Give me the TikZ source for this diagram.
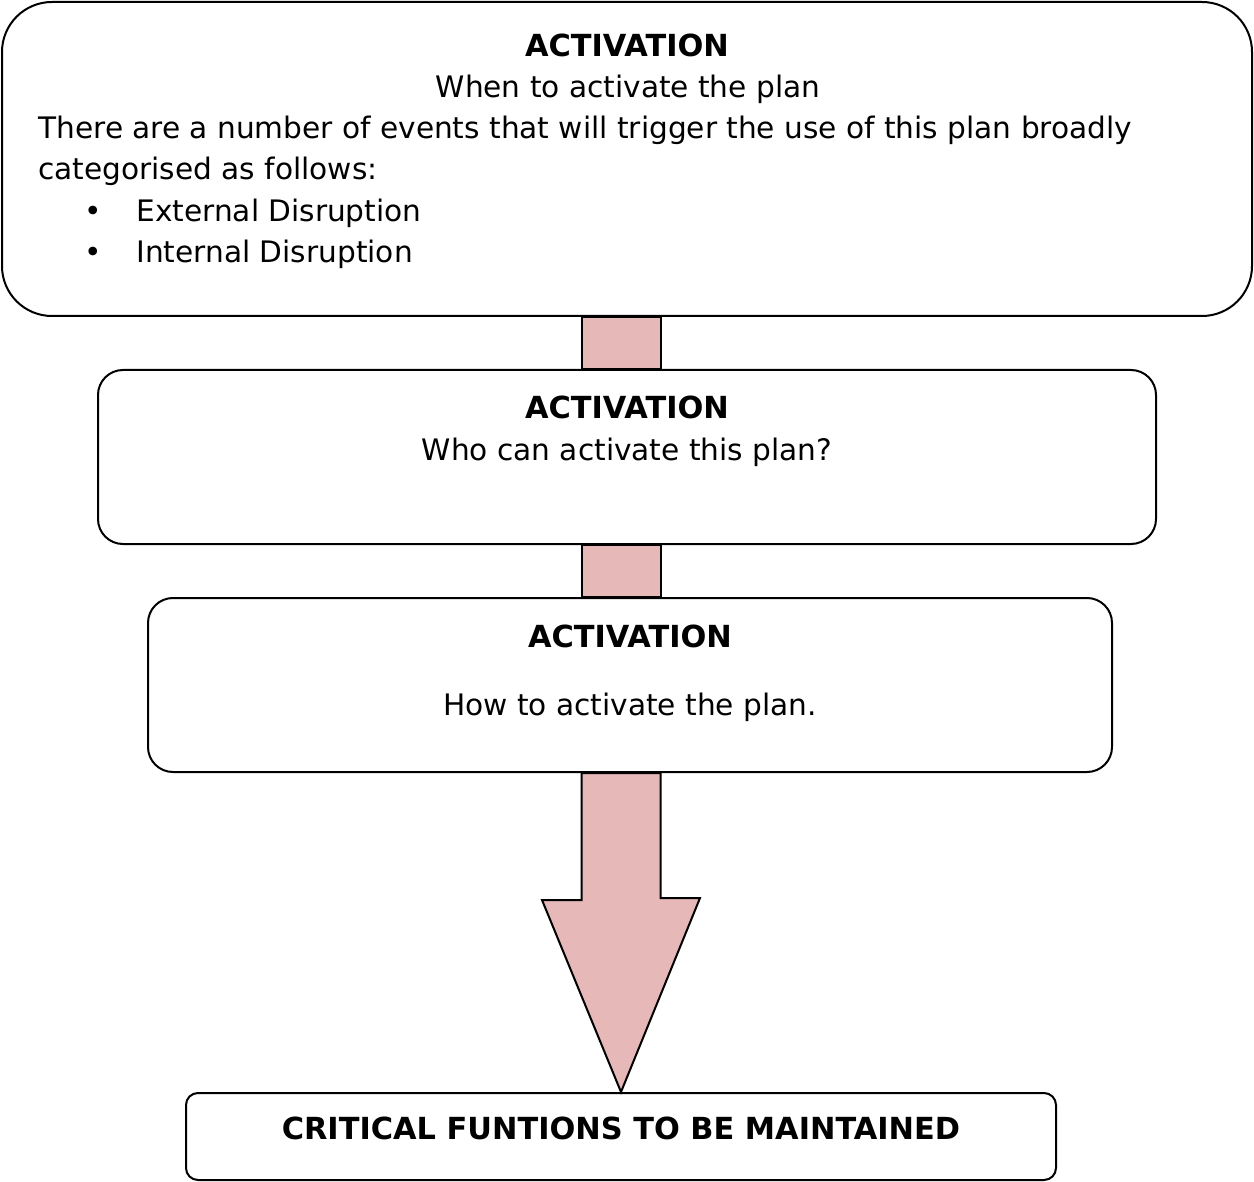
\documentclass[tikz,border=0pt]{standalone}
\usepackage{fontspec}
\setmainfont{DejaVu Sans}
\usetikzlibrary{positioning}
\definecolor{shaftpink}{HTML}{E6B8B7}

\begin{document}
\begin{tikzpicture}[x=0.5pt,y=-0.5pt,
  panel/.style={draw,line width=1pt,fill=white,rounded corners=#1,inner sep=0pt},
  shaft/.style={draw,line width=1pt,fill=shaftpink,line join=miter},
  txt/.style={anchor=base,inner sep=0pt,font=\fontsize{14.8}{20}\selectfont},
  head/.style={txt,font=\fontsize{15.2}{20}\selectfont\bfseries}
]
  \useasboundingbox (0,0) rectangle (1254,1182);

  % the four boxes
  \node[panel=25pt,minimum width=625pt,minimum height=157pt] (act1) at (627,159) {};
  \node[panel=12.5pt,minimum width=529pt,minimum height=87pt] (act2) at (627,457) {};
  \node[panel=12.5pt,minimum width=482pt,minimum height=87pt] (act3) at (630,685) {};
  \node[panel=6pt,minimum width=435pt,minimum height=43.5pt] (crit) at (621,1136.5) {};

  % shafts between the boxes and the big arrow
  \draw[shaft] ([xshift=-19.75pt]act1.south -| crit.north) rectangle ([xshift=19.75pt]act2.north -| crit.north);
  \draw[shaft] ([xshift=-19.75pt]act2.south -| crit.north) rectangle ([xshift=19.75pt]act3.north -| crit.north);
  \draw[shaft] ([xshift=-19.75pt]act3.south -| crit.north) -- ++(0,127) -- ++(-39.5,0)
    -- (crit.north) -- ++(79,-194) -- ++(-39.5,0)
    -- ([xshift=19.75pt]act3.south -| crit.north) -- cycle;

  % texts
  \node[head] (h1) at (627,57) {ACTIVATION};
  \node[txt] (w1) at (628,98) {When to activate the plan};
  \node[txt,anchor=base west] (p1) at (38,139) {There are a number of events that will trigger the use of this plan broadly};
  \node[txt,anchor=base west] (p2) at (38,180) {categorised as follows:};
  \node[txt,anchor=base west] (b1) at (136,222) {External Disruption};
  \node[txt,anchor=base west] (b2) at (136,263) {Internal Disruption};
  \node[txt] (d1) at (93,222) {•};
  \node[txt] (d2) at (93,263) {•};

  \node[head] (h2) at (627,419) {ACTIVATION};
  \node[txt] (w2) at (627,460) {Who can activate this plan?};

  \node[head] (h3) at (630,647) {ACTIVATION};
  \node[txt] (w3) at (630,715) {How to activate the plan.};

  \node[head] (h4) at (621,1139) {CRITICAL FUNTIONS TO BE MAINTAINED};
\end{tikzpicture}
\end{document}
